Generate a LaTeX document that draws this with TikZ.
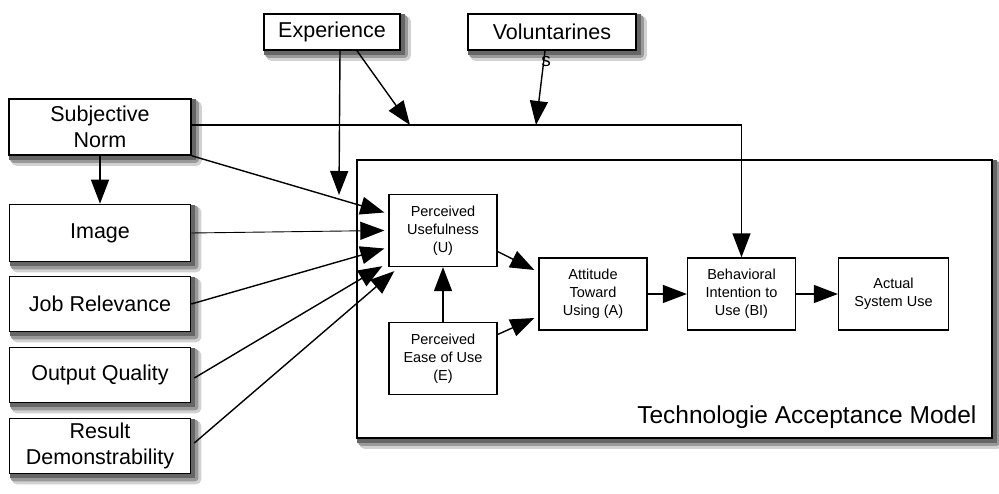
\documentclass[tikz,border=0pt]{standalone}
\usepackage{fontspec}
\setmainfont{Liberation Sans}
\usetikzlibrary{arrows.meta,backgrounds}

\begin{document}
\begin{tikzpicture}[x=1pt,y=-1pt,
    outerbox/.style={draw, line width=1.6pt, fill=white, align=center,
        font=\fontsize{21.5}{26}\selectfont, inner sep=0pt},
    innerbox/.style={draw, line width=1.3pt, fill=white, align=center,
        font=\fontsize{14.5}{18}\selectfont, inner sep=0pt,
        minimum width=108pt, minimum height=72pt},
    link/.style={line width=1.4pt, -{Triangle[length=24pt,width=18pt]}}]
    \useasboundingbox (0,0) rectangle (999,494);

    %frame of the model
    \node[draw, line width=1.6pt, fill=white, minimum width=635pt, minimum height=278pt]
        (tam) at (674.5,299) {};
    \node[anchor=base east, font=\fontsize{24.5}{29}\selectfont] (tamlabel) at (980,423) {Technologie Acceptance Model};

    %outside factors
    \node[outerbox, minimum width=136pt, minimum height=36pt] (exp) at (332,32) {Experience};
    \node[outerbox, minimum width=168pt, minimum height=36pt] (vol) at (552,32) {Voluntarines};
    \node[font=\fontsize{19}{22}\selectfont] (vols) at (546,61) {s};
    \node[outerbox, minimum width=182pt, minimum height=56pt] (sn) at (100,127) {Subjective\\Norm};
    \node[outerbox, minimum width=181pt, minimum height=57pt] (img) at (100,233) {Image};
    \node[outerbox, minimum width=181pt, minimum height=55pt] (job) at (100,304) {Job Relevance};
    \node[outerbox, minimum width=181pt, minimum height=55pt] (out) at (100,375) {Output Quality};
    \node[outerbox, minimum width=181pt, minimum height=55pt] (res) at (100,446) {Result\\Demonstrability};

    %shadows
    \begin{scope}[on background layer]
        \foreach \n in {tam,exp,vol,sn,img,job,out,res}{
            \fill[black!18, rounded corners=5pt] ([shift={(3,3)}]\n.north west) rectangle ([shift={(10,10)}]\n.south east);
            \fill[black!40, rounded corners=3pt] ([shift={(2,2)}]\n.north west) rectangle ([shift={(7,7)}]\n.south east);
            \fill[black!60] ([shift={(1,1)}]\n.north west) rectangle ([shift={(4,4)}]\n.south east);
        }
    \end{scope}

    %model
    \node[innerbox] (pu) at (443,230.5) {Perceived\\Usefulness\\(U)};
    \node[innerbox] (pe) at (443,358.5) {Perceived\\Ease of Use\\(E)};
    \node[innerbox] (att) at (593,294) {Attitude\\Toward\\Using (A)};
    \node[innerbox] (bi) at (741.5,294) {Behavioral\\Intention to\\Use (BI)};
    \node[innerbox, minimum width=110pt] (asu) at (893.5,294) {Actual\\System Use};

    %free ends
    \coordinate (expin) at (339,195);
    \coordinate (expmod) at (410,125);
    \coordinate (volmod) at (536,125);

    %connectors
    \draw[link] (exp.south -| 340,0) -- (expin);
    \draw[link] (exp.south -| 357,0) -- (expmod);
    \draw[link] (vol.south -| 545,0) -- (volmod);
    \draw[link] (sn.east |- 0,125) -| (bi.north);
    \draw[link] (sn.south) -- (img.north);
    \draw[link] (sn.south east) -- ([shift={(-4,-18)}]pu.west);
    \draw[link, line width=0.9pt] (img.east) -- ([shift={(-4,0)}]pu.west);
    \draw[link] (job.east) -- ([shift={(-4,18)}]pu.west);
    \draw[link] ([shift={(3,3)}]out.east) -- ([shift={(-6,-1)}]pu.south west);
    \draw[link] ([shift={(3,-3)}]res.east) -- ([shift={(6,4)}]pu.south west);
    \draw[link] ([shift={(0,21)}]pu.east) -- ([shift={(-4,-24)}]att.west);
    \draw[link] ([shift={(0,-24)}]pe.east) -- ([shift={(-4,24)}]att.west);
    \draw[link] (pe.north) -- (pu.south);
    \draw[link] (att.east) -- (bi.west);
    \draw[link] (bi.east) -- (asu.west);
\end{tikzpicture}
\end{document}
